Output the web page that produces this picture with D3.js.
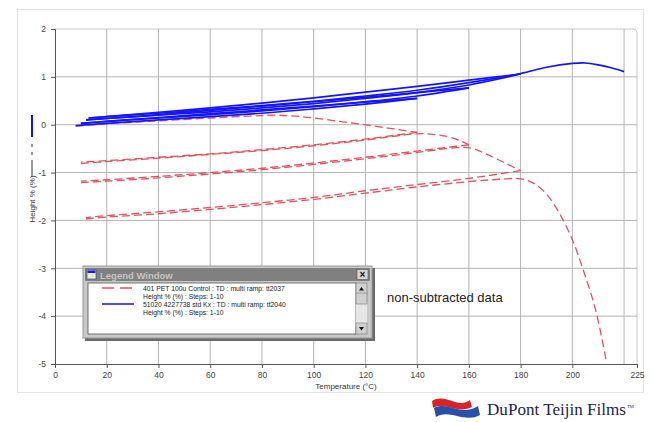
<!DOCTYPE html>
<html><head><meta charset="utf-8">
<script src="https://cdn.jsdelivr.net/npm/d3@7"></script>
<style>
body{margin:0;background:#fff;}
svg{display:block;font-family:"Liberation Sans",Arial,sans-serif;}
</style></head>
<body><svg id="c" width="652" height="422"></svg>
<script>
// ---- data ----
const xTicks = [0,20,40,60,80,100,120,140,160,180,200,220];
const xTickLabels = [0,20,40,60,80,100,120,140,160,180,200,225];
const yTicks = [-5,-4,-3,-2,-1,0,1,2];

// 401 PET 100u Control (red dashed), steps: [temperature, height %]
const red1 = [[8,-0.03],[20,0.02],[40,0.08],[60,0.14],[75,0.18],[85,0.2],[95,0.17],[110,0.07],[125,-0.04],[140,-0.16]];
const red2 = [[140,-0.16],[120,-0.3],[100,-0.42],[80,-0.52],[60,-0.61],[40,-0.68],[20,-0.75],[10,-0.78]];
const red3 = [[10,-0.81],[20,-0.77],[40,-0.7],[60,-0.62],[80,-0.54],[100,-0.44],[120,-0.32],[140,-0.19],[146,-0.2],[152,-0.25],[156,-0.32],[160,-0.42]];
const red4 = [[160,-0.42],[140,-0.55],[120,-0.68],[100,-0.8],[80,-0.91],[60,-1.0],[40,-1.08],[20,-1.15],[10,-1.18]];
const red5 = [[10,-1.21],[20,-1.18],[40,-1.11],[60,-1.03],[80,-0.94],[100,-0.83],[120,-0.71],[140,-0.58],[155,-0.48],[161,-0.49],[167,-0.62],[174,-0.8],[180,-0.96]];
const red6 = [[180,-0.96],[160,-1.12],[140,-1.25],[120,-1.38],[100,-1.52],[80,-1.63],[60,-1.73],[40,-1.82],[20,-1.9],[12,-1.94]];
const red7 = [[12,-1.97],[20,-1.93],[40,-1.86],[60,-1.77],[80,-1.67],[100,-1.56],[120,-1.43],[140,-1.3],[160,-1.19],[172,-1.14],[180,-1.13],[185,-1.22],[190,-1.45],[195,-1.85],[200,-2.4],[204,-3.0],[209,-3.87],[213,-4.9]];

// 51020 4227738 std Kx (blue solid)
const blue1 = [[8,-0.02],[20,0.03],[40,0.1],[60,0.17],[80,0.24],[100,0.33],[120,0.43],[140,0.55]];
const blue2 = [[140,0.55],[120,0.47],[100,0.39],[80,0.31],[60,0.23],[40,0.15],[20,0.07],[10,0.03]];
const blue3 = [[10,0.03],[20,0.07],[40,0.14],[60,0.21],[80,0.29],[100,0.38],[120,0.48],[140,0.6],[160,0.77]];
const blue4 = [[160,0.77],[140,0.67],[120,0.57],[100,0.48],[80,0.39],[60,0.3],[40,0.21],[20,0.13],[12,0.1]];
const blue5 = [[12,0.1],[20,0.13],[40,0.2],[60,0.27],[80,0.35],[100,0.44],[120,0.55],[140,0.67],[160,0.83],[180,1.06]];
const blue6 = [[180,1.06],[160,0.93],[140,0.8],[120,0.68],[100,0.56],[80,0.45],[60,0.35],[40,0.26],[20,0.17],[13,0.14]];
const blue7 = [[13,0.14],[20,0.17],[40,0.24],[60,0.32],[80,0.4],[100,0.49],[120,0.6],[140,0.72],[160,0.88],[180,1.07],[190,1.2],[200,1.28],[205,1.29],[210,1.25],[215,1.19],[220,1.11]];

const redSteps = [red1,red2,red3,red4,red5,red6,red7];
const blueSteps = [blue1,blue2,blue3,blue4,blue5,blue6,blue7];

const legendLines = [
  "401 PET 100u Control  : TD : multi ramp: tt2037",
  "Height  % (%) : Steps: 1-10",
  "51020 4227738 std Kx  : TD : multi ramp: tt2040",
  "Height  % (%) : Steps: 1-10"
];

// ---- drawing ----
const svg = d3.select("#c");
const L=55, R=637, T=29, B=364;
const x = d3.scaleLinear().domain([0,225]).range([L,R]);
const y = d3.scaleLinear().domain([-5,2]).range([B,T]);

// outer frame
svg.append("rect").attr("x",17.5).attr("y",9.5).attr("width",626).attr("height",383)
  .attr("fill","#fff").attr("stroke","#e4e4e4");

// plot frame top/right
svg.append("path").attr("d",`M${L},${T}H${R-4}Q${R},${T} ${R},${T+4}V${B}`)
  .attr("fill","none").attr("stroke","#c8c8c8");

// grid
svg.append("g").selectAll("line").data(xTicks.filter(d=>d>0)).join("line")
  .attr("x1",d=>x(d)).attr("x2",d=>x(d)).attr("y1",T).attr("y2",B)
  .attr("stroke","#b4b4b4").attr("stroke-width",1);
svg.append("g").selectAll("line").data(yTicks.filter(d=>d>-5&&d<2)).join("line")
  .attr("x1",L).attr("x2",R).attr("y1",d=>y(d)).attr("y2",d=>y(d))
  .attr("stroke","#b4b4b4").attr("stroke-width",1);

// axes
const xAxis = d3.axisBottom(x).tickValues(xTickLabels).tickSize(4).tickPadding(4).tickFormat(d=>String(d));
const gx = svg.append("g").attr("transform",`translate(0,${B})`).call(xAxis);
const yAxis = d3.axisLeft(y).tickValues(yTicks).tickSize(4).tickPadding(5).tickFormat(d=>String(d));
const gy = svg.append("g").attr("transform",`translate(${L},0)`).call(yAxis);
[gx,gy].forEach(g=>{
  g.select(".domain").attr("stroke","#555");
  g.selectAll(".tick line").attr("stroke","#555");
  g.selectAll("text").attr("fill","#444").attr("font-size",8.5).attr("font-family","Liberation Sans, Arial, sans-serif");
});

// axis titles
svg.append("text").attr("x",(L+R)/2).attr("y",389).attr("text-anchor","middle")
  .attr("font-size",8).attr("fill","#333").text("Temperature (°C)");
svg.append("text").attr("transform","translate(35,199) rotate(-90)").attr("text-anchor","middle")
  .attr("font-size",8).attr("fill","#333").text("Height % (%)");
// y-title series markers
svg.append("line").attr("x1",32).attr("x2",32).attr("y1",115).attr("y2",137)
  .attr("stroke","#1010ff").attr("stroke-width",2);
svg.append("line").attr("x1",32).attr("x2",32).attr("y1",144).attr("y2",177)
  .attr("stroke","#333").attr("stroke-width",1).attr("stroke-dasharray","3,5,3,5,17");

// curves
const line = d3.line().x(d=>x(d[0])).y(d=>y(d[1])).curve(d3.curveCatmullRom.alpha(0.5));
svg.append("clipPath").attr("id","pc").append("rect")
  .attr("x",L).attr("y",T).attr("width",R-L).attr("height",B-T);
const pg = svg.append("g").attr("clip-path","url(#pc)");
pg.selectAll("path.red").data(redSteps).join("path").attr("class","red")
  .attr("d",line).attr("fill","none").attr("stroke","#e8505e").attr("stroke-width",1.3)
  .attr("stroke-dasharray","8,4");
pg.selectAll("path.blue").data(blueSteps).join("path").attr("class","blue")
  .attr("d",line).attr("fill","none").attr("stroke","#1414ff").attr("stroke-width",1.7);

// annotation
svg.append("text").attr("x",387).attr("y",302).attr("font-size",13).attr("fill","#222")
  .attr("font-family","Liberation Sans, Arial, sans-serif").text("non-subtracted data");

// legend window
const lw = svg.append("g").attr("transform","translate(83,266)");
lw.append("rect").attr("x",2).attr("y",2).attr("width",290).attr("height",73).attr("fill","#6a6a6a");
lw.append("rect").attr("x",0).attr("y",0).attr("width",289).attr("height",72).attr("fill","#c8c8c8")
  .attr("stroke","#9a9a9a");
lw.append("rect").attr("x",2).attr("y",2).attr("width",285).attr("height",13).attr("fill","#808080");
lw.append("rect").attr("x",4).attr("y",4).attr("width",9).attr("height",9).attr("fill","#e8e8e8").attr("stroke","#444").attr("stroke-width",0.6);
lw.append("rect").attr("x",4.5).attr("y",4.5).attr("width",8).attr("height",2.5).attr("fill","#1a1aff");
lw.append("text").attr("x",17).attr("y",12.5).attr("font-size",9.5).attr("font-weight","bold")
  .attr("fill","#c4c4c4").text("Legend Window");
lw.append("rect").attr("x",274).attr("y",3.5).attr("width",11).attr("height",10).attr("fill","#d4d4d4").attr("stroke","#555").attr("stroke-width",0.6);
lw.append("text").attr("x",279.5).attr("y",12).attr("text-anchor","middle").attr("font-size",10).attr("font-weight","bold").attr("fill","#111").text("×");
lw.append("rect").attr("x",5).attr("y",17).attr("width",268).attr("height",51).attr("fill","#fff").attr("stroke","#555").attr("stroke-width",0.8);
// scrollbar
lw.append("rect").attr("x",273).attr("y",17).attr("width",11).attr("height",51).attr("fill","#e6e6e6");
[[273,17],[273,57],[273,27]].forEach(([a,b])=>{
  lw.append("rect").attr("x",a).attr("y",b).attr("width",11).attr("height",11).attr("fill","#d0d0d0").attr("stroke","#777").attr("stroke-width",0.6);
});
lw.append("path").attr("d","M276,24.5L278.5,21L281,24.5Z").attr("fill","#111");
lw.append("path").attr("d","M276,61L278.5,64.5L281,61Z").attr("fill","#111");
// entries
lw.append("line").attr("x1",19).attr("x2",51).attr("y1",22).attr("y2",22)
  .attr("stroke","#e8505e").attr("stroke-width",1.3).attr("stroke-dasharray","12,6");
lw.append("line").attr("x1",19).attr("x2",51).attr("y1",38).attr("y2",38)
  .attr("stroke","#1414ff").attr("stroke-width",1.5);
lw.selectAll("text.lg").data(legendLines).join("text").attr("class","lg")
  .attr("x",60).attr("y",(d,i)=>[24.5,32.5,40.5,48.5][i])
  .attr("font-size",6.8).attr("fill","#222").text(d=>d);

// logo
const logo = svg.append("g");
logo.append("path").attr("d","M432,401 C440,396 448,400 455,402 C462,404 466,403 470,400 L472,407 C466,410 460,410 452,408 C444,406 438,405 433,408 Z")
  .attr("fill","#d8232a");
logo.append("path").attr("d","M434,408 C441,404 449,407 457,409 C465,411 472,410 478,406 L480,415 C473,419 465,418 457,416 C449,414 442,413 436,417 Z")
  .attr("fill","#2a4fa8");
const lt = logo.append("text").attr("x",487).attr("y",415).attr("font-family","Liberation Serif, Times New Roman, serif")
  .attr("font-size",17).attr("fill","#1c2450").attr("textLength",139).attr("lengthAdjust","spacingAndGlyphs")
  .text("DuPont Teijin Films");
logo.append("text").attr("x",627).attr("y",408).attr("font-family","Liberation Serif, serif")
  .attr("font-size",4.5).attr("fill","#1c2450").text("TM");
</script></body></html>
